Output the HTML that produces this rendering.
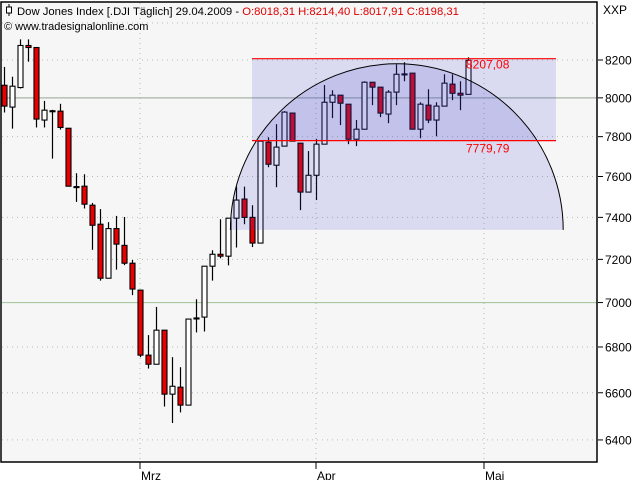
<!DOCTYPE html>
<html><head><meta charset="utf-8">
<style>
body{margin:0;background:#fff;}
svg{display:block;font-family:"Liberation Sans",sans-serif;}
</style></head>
<body>
<svg id="chart" width="640" height="480" xmlns="http://www.w3.org/2000/svg">
<rect x="1" y="2" width="596" height="460" fill="#f6f6f6"/>
<g id="grid"></g>
<g id="candles"></g>
<g id="overlay"></g>
<rect x="1" y="2" width="596" height="460" fill="none" stroke="#000" stroke-width="1.5"/>
<g id="axes"></g>
<g>
<g><line x1="9" y1="4" x2="9" y2="16" stroke="#000"/><rect x="6.5" y="7" width="5" height="6" fill="#fff" stroke="#000"/></g>
<text x="17" y="15" font-size="11.3" fill="#000">Dow Jones Index [.DJI  Täglich] 29.04.2009 - <tspan fill="#e00000">O:8018,31 H:8214,40 L:8017,91 C:8198,31</tspan></text>
<text x="4" y="30" font-size="11" fill="#000">© www.tradesignalonline.com</text>
<text x="603" y="14" font-size="12" fill="#000">XXP</text>
</g>
</svg>
<script>
const opens  = [8066,7952,8054,8278,8267,7885,7933,7931,7843,7550,7552,7459,7367,7112,7346,7266,7182,7057,6764,6724,6875,6594,6624,6547,6929,6934,7168,7224,7215,7396,7489,7400,7277,7772,7656,7752,7921,7767,7523,7606,7762,7977,8014,7967,7787,7838,8082,8056,7916,8030,8126,8130,7838,7962,7885,7957,8072,8024,8018.31];
const highs  = [8163,8111,8311,8311,8270,7984,7938,7969,7843,7616,7611,7470,7440,7377,7407,7402,7197,7057,6853,6980,6875,6755,6711,6925,7015,7168,7243,7391,7396,7550,7550,7459,7780,7797,7864,7931,7921,7767,7727,7788,8067,8040,8014,7967,7885,8087,8082,8056,8040,8177,8188,8130,7977,8045,7977,8124,8124,8087,8214.40];
const lows   = [7924,7841,8049,8191,7847,7847,7689,7836,7552,7475,7443,7245,7101,7112,7152,7173,7034,6755,6705,6724,6541,6471,6516,6547,6865,6869,7101,7205,7172,7256,7367,7258,7277,7646,7547,7752,7777,7435,7523,7484,7762,7895,7859,7762,7752,7838,7962,7900,7869,7962,8087,7838,7792,7869,7802,7957,7988,7936,8017.91];
const closes = [7957,8061,8278,8267,7890,7936,7932,7847,7552,7548,7464,7362,7112,7346,7272,7182,7062,6764,6724,6875,6594,6628,6547,6925,6930,7168,7224,7215,7396,7484,7400,7277,7777,7661,7747,7926,7777,7523,7606,7762,7977,8014,7972,7787,7838,8082,8056,7921,8030,8124,8124,7838,7967,7885,7957,8077,8024,8014,8198.31];
const yTicks = [8200,8000,7800,7600,7400,7200,7000,6800,6600,6400];
const monthLabels = ["Mrz","Apr","Mai"];
const monthIndex = [17,39,60];
const rangeHigh = 8207.08, rangeLow = 7779.79;
const rangeLabels = ["8207,08","7779,79"];
const rangeStart = 31, rangeEnd = 69;
const arcLevel = 7340, arcStart = 28.3, arcEnd = 69.9, arcTop = 8180;

const NS="http://www.w3.org/2000/svg";
function y(v){return 60+Math.log(8200/v)*1533;}
function x(i){return 4+8*i;}
function mk(tag,attrs,parent){const e=document.createElementNS(NS,tag);for(const k in attrs)e.setAttribute(k,attrs[k]);parent.appendChild(e);return e;}
const grid=document.getElementById('grid'),cg=document.getElementById('candles'),ov=document.getElementById('overlay'),ax=document.getElementById('axes');

[8400].concat(yTicks).forEach(v=>{
  const solid=(v===8000||v===7000);
  const l=mk('line',{x1:2,x2:597,y1:y(v),y2:y(v),stroke:solid?(v===8000?'#a8b4a8':'#a8c8a0'):'#b0c0b0','stroke-width':solid?1.2:1,'stroke-dasharray':solid?'none':'1 4'},grid);
  
  
});
monthIndex.forEach((mi,k)=>{
  const l=mk('line',{x1:x(mi),x2:x(mi),y1:3,y2:462,stroke:'#a8c0a8','stroke-dasharray':'1 4'},grid);
  
  
});

for(let i=0;i<opens.length;i++){
  const g=mk('g',{},cg);
  
  
  const cx=x(i)+0.5;
  mk('line',{x1:cx,x2:cx,y1:y(highs[i]),y2:y(lows[i]),stroke:'#000','stroke-width':1.2},g);
  const t=y(Math.max(opens[i],closes[i])),b=y(Math.min(opens[i],closes[i]));
  const up=closes[i]>=opens[i];
  mk('rect',{x:cx-2.5,y:t,width:5,height:Math.max(b-t,1),fill:up?'#ffffff':'#e80000',stroke:'#000','stroke-width':1.1},g);
}

const rx0=x(rangeStart),rx1=x(rangeEnd);
const r=mk('rect',{x:rx0,y:y(rangeHigh),width:rx1-rx0,height:y(rangeLow)-y(rangeHigh),fill:'rgba(60,60,210,0.15)'},ov);


const ax0=x(arcStart),ax1=x(arcEnd),ab=y(arcLevel),erx=(ax1-ax0)/2,ery=ab-y(arcTop);
const arcD=`M${ax0},${ab} A${erx},${ery} 0 0 1 ${ax1},${ab}`;
const af=mk('path',{d:arcD+' Z',fill:'rgba(60,60,210,0.15)'},ov);


const al=mk('path',{d:arcD,fill:'none',stroke:'#000','stroke-width':1},ov);


[rangeHigh,rangeLow].forEach((v,k)=>{
  const l=mk('line',{x1:rx0,x2:rx1,y1:y(v),y2:y(v),stroke:'#ff0000','stroke-width':1.2},ov);
  
  
  const t=mk('text',{x:466,y:y(v)+(k?12:10),'font-size':12,fill:'#ff0000'},ov);
  t.textContent=rangeLabels[k];
  
  
});

yTicks.forEach(v=>{
  mk('line',{x1:598,x2:603,y1:y(v),y2:y(v),stroke:'#000'},ax);
  const t=mk('text',{x:605,y:y(v)+4.5,'font-size':12,fill:'#000'},ax);
  t.textContent=v;
  
  
});
monthIndex.forEach((mi,k)=>{
  mk('line',{x1:x(mi),x2:x(mi),y1:462,y2:469,stroke:'#000'},ax);
  const t=mk('text',{x:x(mi)+1,y:480,'font-size':12,fill:'#000'},ax);
  t.textContent=monthLabels[k];
  
  
});
</script>
</body></html>
